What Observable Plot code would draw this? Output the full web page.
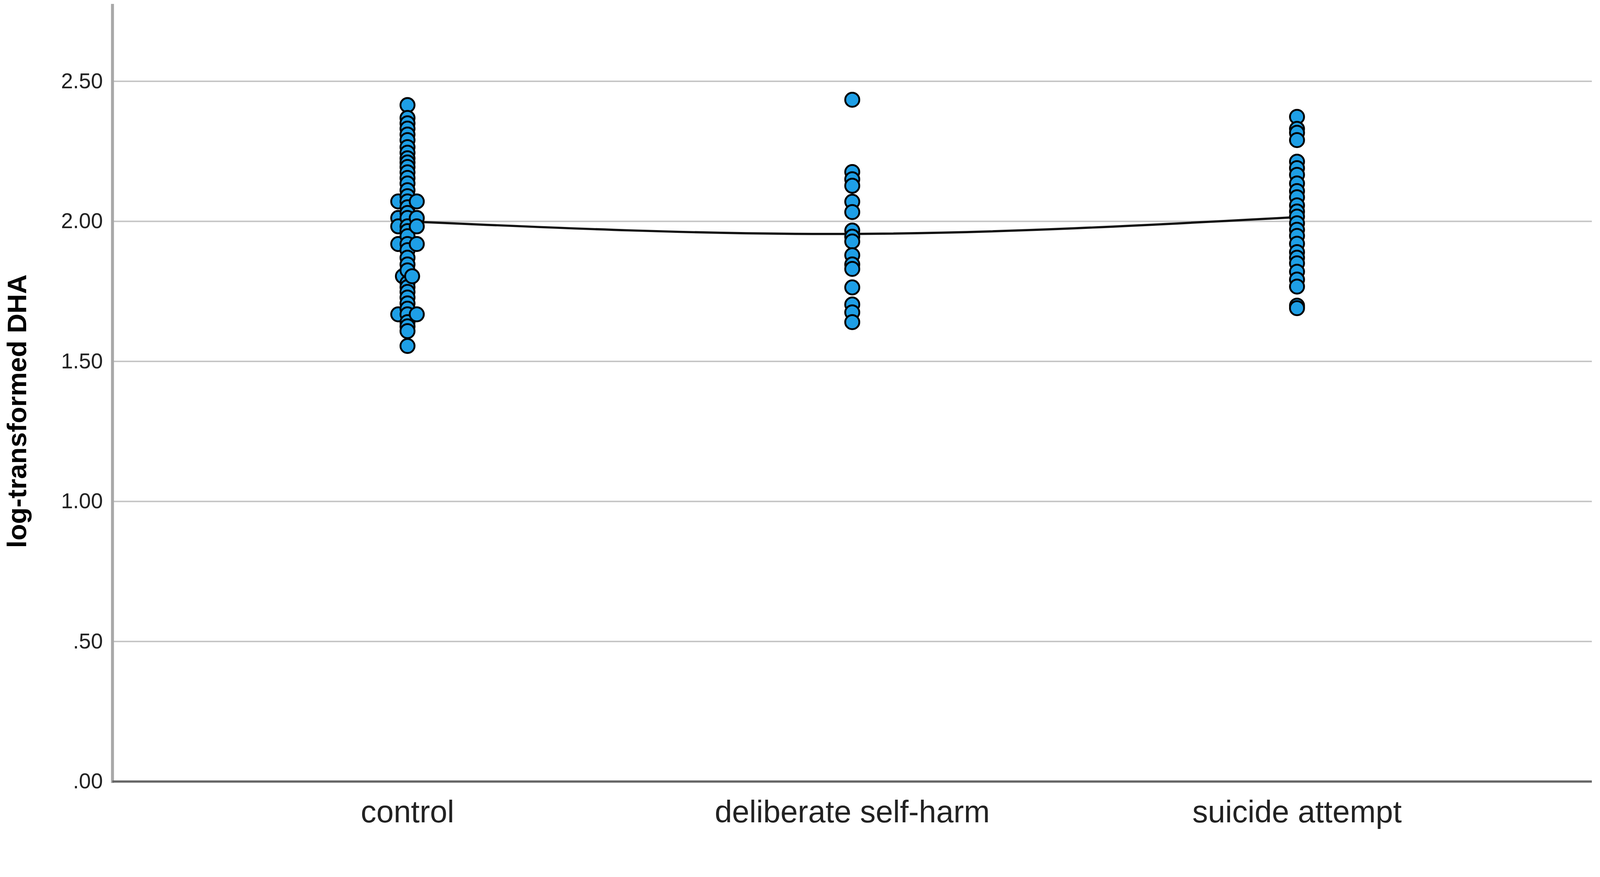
<!DOCTYPE html>
<html>
<head>
<meta charset="utf-8">
<script src="https://cdn.jsdelivr.net/npm/d3@7"></script>
<script src="https://cdn.jsdelivr.net/npm/@observablehq/plot@0.6"></script>
<style>
  html, body { margin: 0; padding: 0; background: #fff; }
  #chart svg { display: block; }
</style>
</head>
<body>
<div id="chart"></div>
<script>
// ---- data ----
const categories = ["control", "deliberate self-harm", "suicide attempt"];

const controlValues = [
  2.415, 2.369, 2.350, 2.331, 2.310, 2.290, 2.265, 2.245, 2.225, 2.210,
  2.194, 2.175, 2.155, 2.135, 2.111, 2.090, 2.071, 2.071, 2.071, 2.050,
  2.030, 2.012, 2.012, 2.012, 1.982, 1.982, 1.982, 1.965, 1.947, 1.919,
  1.919, 1.919, 1.897, 1.870, 1.846, 1.825, 1.804, 1.804, 1.780, 1.765,
  1.748, 1.728, 1.707, 1.688, 1.668, 1.668, 1.668, 1.640, 1.625, 1.608,
  1.555
];

const dshValues = [
  2.434, 2.176, 2.150, 2.127, 2.070, 2.033, 1.967, 1.945, 1.928, 1.879,
  1.846, 1.830, 1.764, 1.703, 1.675, 1.640
];

const saValues = [
  2.373, 2.330, 2.316, 2.290, 2.213, 2.190, 2.166, 2.135, 2.108, 2.086,
  2.057, 2.035, 2.017, 1.993, 1.970, 1.948, 1.920, 1.890, 1.870, 1.850,
  1.820, 1.792, 1.767, 1.699, 1.690
];

const groupMeans = [2.000, 1.955, 2.015];

const yTicks = [0, 0.5, 1, 1.5, 2, 2.5];
const yLabel = "log-transformed DHA";

// ---- build table: identical values sit side by side ----
const seriesByGroup = [controlValues, dshValues, saValues];
const points = [];
seriesByGroup.forEach((vals, gi) => {
  const counts = d3.rollup(vals, v => v.length, d => d);
  const seen = new Map();
  vals.forEach(v => {
    const n = counts.get(v);
    const k = seen.get(v) || 0;
    seen.set(v, k + 1);
    const slot = k - (n - 1) / 2;     // -1,0,1 or -0.5,0.5 or 0
    points.push({group: categories[gi], value: v, slot});
  });
});
const slots = Array.from(new Set(points.map(d => d.slot))).sort((a, b) => a - b);
const meanRows = categories.map((c, i) => ({group: c, mean: groupMeans[i]}));

const slotSpacing = 25;
const dotMarks = slots.map(s =>
  Plot.dot(points.filter(d => d.slot === s), {
    x: "group", y: "value", r: 19,
    fill: "#1e9fe6", stroke: "#000", strokeWidth: 5,
    dx: s * slotSpacing
  })
);

const chart = Plot.plot({
  width: 4317,
  height: 2245,
  marginLeft: 303,
  marginRight: 22,
  marginTop: 14,
  marginBottom: 137,
  style: {fontFamily: "'Liberation Sans', Arial, sans-serif", background: "#fff", color: "#222"},
  x: {type: "point", domain: categories, padding: 0.663, label: null},
  y: {domain: [0, 2.771], label: null},
  marks: [
    Plot.gridY({ticks: yTicks.filter(d => d > 0), stroke: "#c4c4c4", strokeWidth: 4, strokeOpacity: 1}),
    Plot.frame({anchor: "left", stroke: "#a8a8a8", strokeWidth: 8}),
    Plot.ruleY([0], {stroke: "#666", strokeWidth: 6}),
    Plot.axisY({ticks: yTicks, tickSize: 0, tickPadding: 26, fontSize: 58,
      tickFormat: d => d3.format(".2f")(d).replace(/^0/, ""), label: null}),
    Plot.axisX({tickSize: 0, tickPadding: 50, fontSize: 84, label: null}),
    Plot.text([yLabel], {text: d => d, frameAnchor: "left", rotate: -90, dx: -256, dy: 48,
      fontSize: 73, fontWeight: "bold", textAnchor: "middle", lineAnchor: "middle", fill: "#000"}),
    Plot.line(meanRows, {x: "group", y: "mean", stroke: "#111", strokeWidth: 6, curve: "natural"}),
    ...dotMarks
  ]
});
document.getElementById("chart").appendChild(chart);
</script>
</body>
</html>
